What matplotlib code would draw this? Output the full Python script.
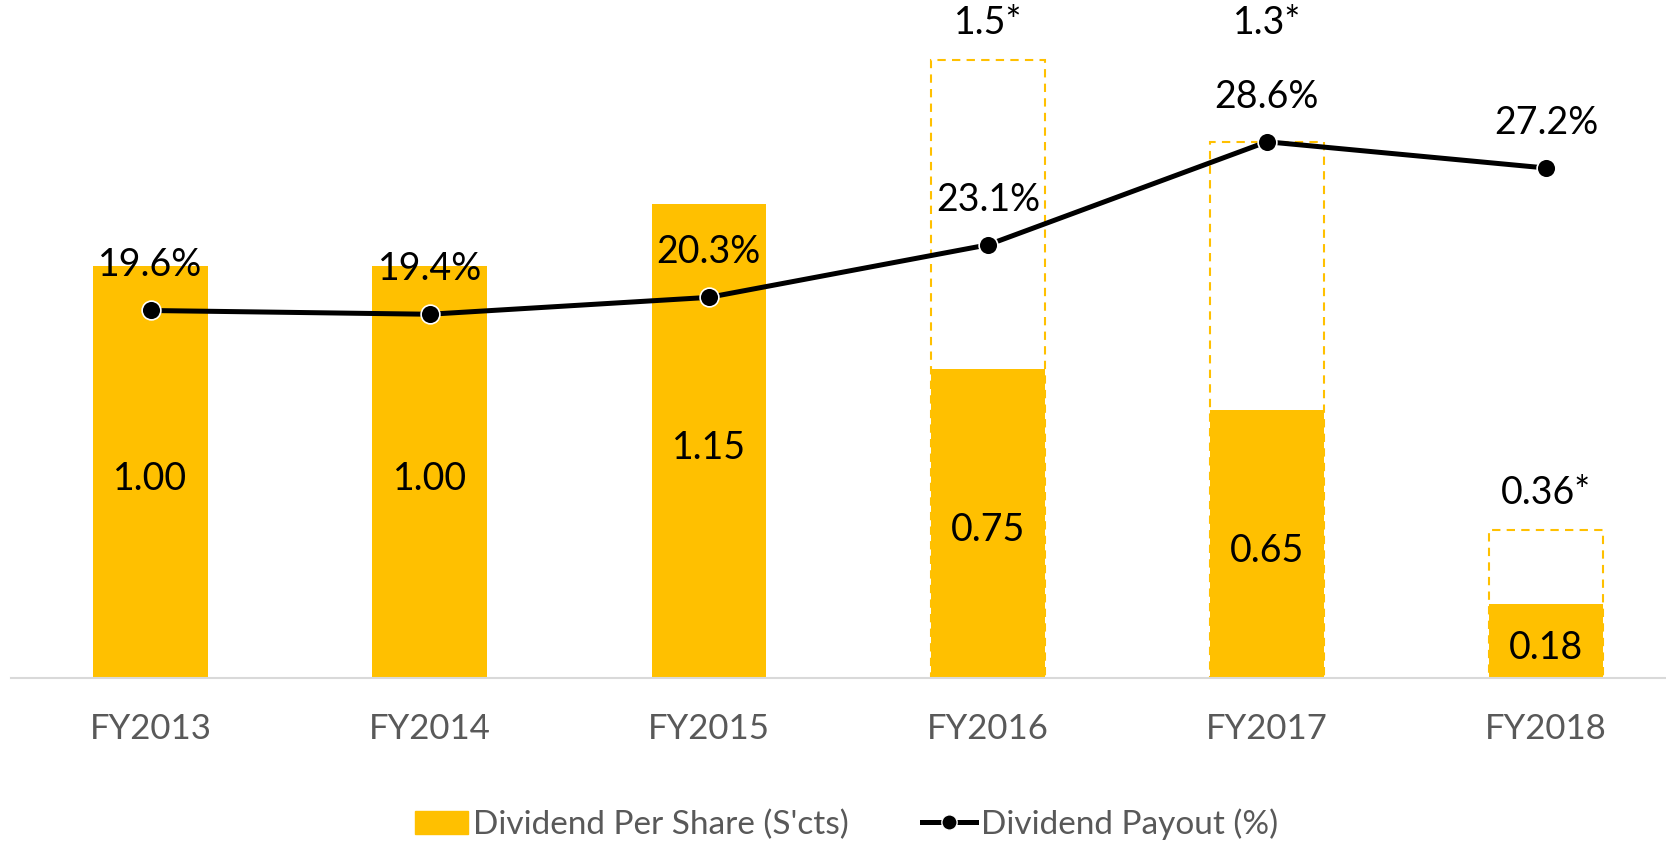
import matplotlib.pyplot as plt
from matplotlib.patches import Patch
from matplotlib.lines import Line2D
import numpy as np

years = ["FY2013", "FY2014", "FY2015", "FY2016", "FY2017", "FY2018"]
dps_paid = [1.00, 1.00, 1.15, 0.75, 0.65, 0.18]
dps_total = [None, None, None, 1.5, 1.3, 0.36]
dps_total_labels = ["", "", "", "1.5*", "1.3*", "0.36*"]
payout = [19.6, 19.4, 20.3, 23.1, 28.6, 27.2]

GOLD = "#FFC000"
GREY = "#595959"
LABEL_SIZE = 27


def main():
    plt.rcParams['font.family'] = ['Lato', 'DejaVu Sans']
    fig = plt.figure(figsize=(16.66, 8.47), dpi=100)
    ax = fig.add_axes([11 / 1666, 169 / 847, 1655 / 1666, 668 / 847])
    x = np.arange(len(years))

    # dashed outline for total dividend (incl. proposed)
    for i, v in enumerate(dps_total):
        if v is not None:
            ax.bar(x[i], v, width=0.41, fill=False, edgecolor=GOLD,
                   linestyle=(0, (4, 3)), linewidth=1.5, zorder=1)
    bars = ax.bar(x, dps_paid, width=0.41, color=GOLD, zorder=2)

    for b, v in zip(bars, dps_paid):
        ax.annotate(f"{v:.2f}", (b.get_x() + b.get_width() / 2, v / 2), xytext=(0, -5),
                    textcoords='offset points', ha='center', va='center',
                    fontsize=LABEL_SIZE, color='black', zorder=3)

    # labels above dashed boxes, FY2017 one pushed up to clear the payout label
    offsets_px = [0, 0, 0, 37, 119, 37]
    for i, v in enumerate(dps_total):
        if v is not None:
            ax.annotate(dps_total_labels[i], (x[i], v), xytext=(0, offsets_px[i] * 0.72),
                        textcoords='offset points', ha='center', va='center',
                        fontsize=LABEL_SIZE, color='black', annotation_clip=False)

    ax.set_xlim(-0.5, 5.43)
    ax.set_ylim(0, 668 / 412)
    ax.set_xticks(x)
    ax.set_xticklabels(years, fontsize=25, color=GREY)
    ax.tick_params(axis='x', length=0, pad=25)
    ax.set_yticks([])
    for s in ['top', 'left', 'right']:
        ax.spines[s].set_visible(False)
    ax.spines['bottom'].set_color('#D9D9D9')
    ax.spines['bottom'].set_linewidth(1.5)

    ax2 = ax.twinx()
    ax2.plot(x, payout, color='black', linewidth=3.6, marker='o', markersize=13.5,
             markerfacecolor='black', markeredgecolor='white', markeredgewidth=1.2, zorder=4)
    for xi, p in zip(x, payout):
        ax2.annotate(f"{p:.1f}%", (xi, p), xytext=(0, 45 * 0.72), textcoords='offset points',
                     ha='center', va='center', fontsize=LABEL_SIZE, color='black')
    ax2.set_ylim(0, 668 / 18.75)
    ax2.set_yticks([])
    for s in ['top', 'left', 'right', 'bottom']:
        ax2.spines[s].set_visible(False)

    handles = [
        Patch(facecolor=GOLD, edgecolor=GOLD),
        Line2D([0], [0], color='black', linewidth=3.6, marker='o', markersize=11,
               markerfacecolor='black', markeredgecolor='white'),
    ]
    fig.legend(handles, ["Dividend Per Share (S'cts)", "Dividend Payout (%)"],
               loc='center', bbox_to_anchor=(0.508, 0.027), ncol=2, frameon=False,
               fontsize=24, labelcolor=GREY, handlelength=1.6, handletextpad=0.15,
               columnspacing=2.2)

    fig.savefig("out.png", dpi=100)


if __name__ == "__main__":
    main()
